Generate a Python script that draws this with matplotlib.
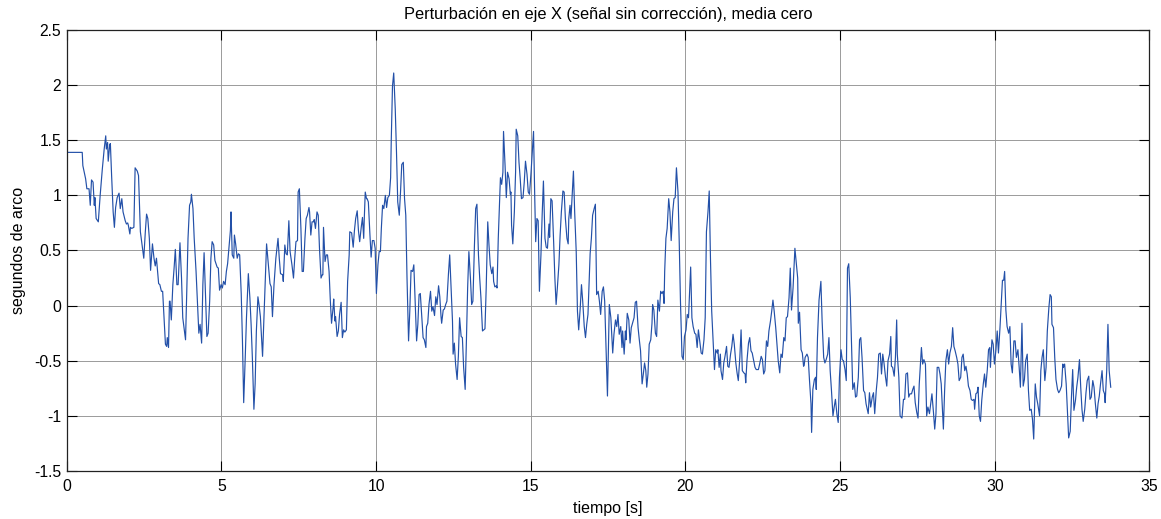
import matplotlib
matplotlib.use("Agg")
import matplotlib.pyplot as plt
from matplotlib.ticker import FuncFormatter

plt.rcParams["font.family"] = ["Liberation Sans", "DejaVu Sans"]

# Values (time in s, disturbance in arc seconds)
tiempo = [
    0.00, 0.50, 0.52, 0.61, 0.65, 0.72, 0.76, 0.80, 0.85, 0.89, 0.91, 0.95, 1.02, 1.08, 1.15, 1.21,
    1.26, 1.28, 1.32, 1.34, 1.39, 1.41, 1.45, 1.50, 1.54, 1.58, 1.63, 1.69, 1.73, 1.78, 1.82, 1.89,
    1.93, 1.97, 1.99, 2.04, 2.06, 2.10, 2.17, 2.21, 2.28, 2.32, 2.38, 2.45, 2.49, 2.54, 2.58, 2.62,
    2.67, 2.71, 2.77, 2.82, 2.86, 2.90, 2.97, 3.01, 3.06, 3.10, 3.14, 3.19, 3.23, 3.25, 3.29, 3.32,
    3.34, 3.38, 3.43, 3.47, 3.51, 3.56, 3.60, 3.66, 3.71, 3.75, 3.79, 3.84, 3.88, 3.92, 3.97, 4.01,
    4.03, 4.08, 4.12, 4.18, 4.23, 4.27, 4.31, 4.36, 4.40, 4.44, 4.49, 4.53, 4.57, 4.62, 4.66, 4.70,
    4.75, 4.79, 4.86, 4.90, 4.94, 4.99, 5.03, 5.07, 5.12, 5.16, 5.20, 5.25, 5.29, 5.31, 5.35, 5.40,
    5.42, 5.46, 5.51, 5.55, 5.59, 5.64, 5.68, 5.72, 5.77, 5.81, 5.87, 5.92, 5.96, 6.00, 6.05, 6.09,
    6.13, 6.18, 6.22, 6.26, 6.33, 6.37, 6.42, 6.46, 6.50, 6.57, 6.61, 6.65, 6.70, 6.76, 6.83, 6.87,
    6.91, 6.98,
    7.00, 7.05, 7.09, 7.13, 7.18, 7.22, 7.28, 7.33, 7.37, 7.41, 7.46, 7.48, 7.52, 7.57, 7.61, 7.65,
    7.70, 7.74, 7.78, 7.83, 7.85, 7.89, 7.93, 7.98, 8.00, 8.04, 8.09, 8.13, 8.17, 8.22, 8.26, 8.28,
    8.30, 8.35, 8.39, 8.43, 8.48, 8.52, 8.56, 8.61, 8.63, 8.67, 8.69, 8.74, 8.78, 8.82, 8.87, 8.91,
    8.95, 8.99, 9.04, 9.08, 9.13, 9.15, 9.21, 9.26, 9.30, 9.34, 9.39, 9.43, 9.47, 9.52, 9.56, 9.60,
    9.62, 9.65, 9.69, 9.71, 9.75, 9.80, 9.84, 9.88, 9.93, 9.97, 10.01, 10.06, 10.10, 10.14, 10.17,
    10.21, 10.25, 10.30, 10.34, 10.38, 10.43, 10.47, 10.49,
    10.53, 10.57, 10.62, 10.66, 10.70, 10.75, 10.79, 10.83, 10.88, 10.92, 10.96, 11.00, 11.05, 11.09,
    11.13, 11.18, 11.22, 11.26, 11.31, 11.35, 11.39, 11.43, 11.48, 11.52, 11.56, 11.61, 11.63, 11.67,
    11.71, 11.76, 11.80, 11.84, 11.89, 11.93, 11.97, 12.02, 12.06, 12.10, 12.12, 12.17, 12.21, 12.25,
    12.29, 12.34, 12.38, 12.42, 12.47, 12.49, 12.53, 12.57, 12.62, 12.66, 12.70, 12.75, 12.79, 12.83,
    12.88, 12.92, 12.96, 13.00, 13.05, 13.09, 13.13, 13.18, 13.22, 13.26, 13.31, 13.35, 13.39, 13.44,
    13.48, 13.52, 13.56, 13.61, 13.65, 13.69, 13.74, 13.78, 13.80, 13.84, 13.89, 13.91, 13.95,
    14.02, 14.06, 14.10, 14.12, 14.17, 14.21, 14.25, 14.30, 14.34, 14.36, 14.38, 14.42, 14.47, 14.51,
    14.53, 14.58, 14.62, 14.66, 14.70, 14.75, 14.79, 14.83, 14.88, 14.92, 14.96, 15.01, 15.05, 15.09,
    15.13, 15.16, 15.20, 15.24, 15.28, 15.33, 15.37, 15.41, 15.46, 15.50, 15.54, 15.59, 15.61, 15.65,
    15.69, 15.74, 15.78, 15.82, 15.86, 15.91, 15.95, 15.99, 16.04, 16.08, 16.12, 16.17, 16.21, 16.23,
    16.27, 16.30, 16.34, 16.38, 16.42, 16.47, 16.51, 16.55, 16.60, 16.64, 16.68, 16.73, 16.77, 16.81,
    16.85, 16.90, 16.92, 16.96, 17.00, 17.05, 17.09, 17.13, 17.18, 17.22, 17.26, 17.31, 17.35, 17.39,
    17.44, 17.48,
    17.54, 17.59, 17.65, 17.69, 17.74, 17.78, 17.82, 17.86, 17.91, 17.95, 17.97, 18.02, 18.06, 18.08,
    18.12, 18.17, 18.21, 18.25, 18.29, 18.34, 18.38, 18.42, 18.47, 18.51, 18.55, 18.60, 18.64, 18.68,
    18.72, 18.75, 18.79, 18.83, 18.88, 18.92, 18.94, 18.98, 19.03, 19.07, 19.11, 19.16, 19.20, 19.24,
    19.28, 19.31, 19.33, 19.37, 19.41, 19.46, 19.50, 19.54, 19.59, 19.63, 19.67, 19.71, 19.76, 19.80,
    19.84, 19.89, 19.93, 19.97, 20.02, 20.06, 20.10, 20.17, 20.21, 20.25, 20.30, 20.34, 20.38, 20.42,
    20.47, 20.51, 20.55, 20.60, 20.64, 20.68, 20.73, 20.77, 20.81, 20.85, 20.90, 20.94, 20.98, 21.03,
    21.05,
    21.09, 21.13, 21.15, 21.20, 21.24, 21.28, 21.33, 21.37, 21.41, 21.46, 21.50, 21.54, 21.58, 21.63,
    21.67, 21.71, 21.76, 21.80, 21.84, 21.89, 21.93, 21.95, 21.99, 22.04, 22.08, 22.12, 22.16, 22.21,
    22.25, 22.29, 22.36, 22.40, 22.45, 22.49, 22.53, 22.57, 22.62, 22.66, 22.70, 22.75, 22.79, 22.83,
    22.87, 22.92, 22.96, 23.00, 23.05, 23.09, 23.13, 23.18, 23.22, 23.26, 23.30, 23.35, 23.39, 23.43,
    23.48, 23.52, 23.54, 23.58, 23.63, 23.65, 23.69, 23.74, 23.78, 23.82, 23.84, 23.87, 23.93, 23.97,
    24.01, 24.06, 24.08, 24.12, 24.17, 24.21, 24.23, 24.27, 24.32, 24.36, 24.38, 24.42, 24.47, 24.51,
    24.55, 24.60,
    24.64, 24.68, 24.72, 24.77, 24.81, 24.85, 24.90, 24.94, 24.98, 25.03, 25.07, 25.11, 25.16, 25.20,
    25.24, 25.28, 25.33, 25.37, 25.41, 25.46, 25.50, 25.54, 25.59, 25.63, 25.67, 25.71, 25.76, 25.80,
    25.84, 25.91, 25.95, 25.99, 26.04, 26.08, 26.12, 26.17, 26.21, 26.25, 26.30, 26.34, 26.38, 26.42,
    26.47, 26.51, 26.55, 26.60, 26.64, 26.66, 26.70, 26.75, 26.79, 26.83, 26.85, 26.90, 26.94, 27.00,
    27.05, 27.09, 27.13, 27.18, 27.22, 27.26, 27.31, 27.35, 27.39, 27.43, 27.48, 27.52, 27.56, 27.63,
    27.67, 27.71, 27.76, 27.80, 27.84, 27.89, 27.93, 27.97, 28.02, 28.06, 28.10, 28.14,
    28.19, 28.23, 28.27, 28.34, 28.38, 28.42, 28.47, 28.51, 28.55, 28.60, 28.64, 28.68, 28.72, 28.77,
    28.81, 28.85, 28.90, 28.94, 28.98, 29.03, 29.07, 29.11, 29.15, 29.20, 29.24, 29.28, 29.33, 29.35,
    29.39, 29.43, 29.46, 29.50, 29.54, 29.58, 29.63, 29.67, 29.71, 29.76, 29.80, 29.84, 29.86, 29.91,
    29.95, 29.99, 30.04, 30.08, 30.12, 30.17, 30.21, 30.25, 30.29, 30.32, 30.36, 30.40, 30.45, 30.49,
    30.53, 30.57, 30.62, 30.66, 30.70, 30.75, 30.79, 30.83, 30.88, 30.92, 30.96, 31.00, 31.05, 31.09,
    31.13, 31.18, 31.22, 31.26, 31.31, 31.35, 31.39,
    31.45, 31.49, 31.53, 31.57, 31.62, 31.66, 31.70, 31.75, 31.79, 31.83, 31.85, 31.90, 31.94, 31.98,
    32.03, 32.07, 32.11, 32.16, 32.20, 32.22, 32.26, 32.31, 32.35, 32.39, 32.44, 32.48, 32.52, 32.56,
    32.61, 32.65, 32.69, 32.74, 32.78, 32.82, 32.86, 32.91, 32.95, 32.99, 33.04, 33.08, 33.12, 33.17,
    33.21, 33.25, 33.30, 33.34, 33.38, 33.42, 33.47, 33.51, 33.55, 33.57, 33.62, 33.66, 33.70, 33.75,
]

perturbacion = [
    1.39, 1.39, 1.27, 1.15, 1.06, 1.06, 0.91, 1.14, 1.12, 0.91, 0.98, 0.79, 0.76, 1.00, 1.24, 1.42,
    1.54, 1.42, 1.48, 1.31, 1.46, 1.47, 1.18, 0.85, 0.71, 0.89, 0.98, 1.02, 0.88, 0.97, 0.85, 0.77,
    0.74, 0.75, 0.73, 0.65, 0.71, 0.70, 0.71, 1.25, 1.22, 1.18, 0.67, 0.52, 0.43, 0.67, 0.83, 0.79,
    0.61, 0.32, 0.56, 0.43, 0.36, 0.43, 0.20, 0.19, 0.13, 0.13, -0.08, -0.35, -0.37, -0.29, -0.38, 0.04,
    0.04, -0.13, 0.19, 0.34, 0.51, 0.19, 0.19, 0.57, 0.25, -0.11, -0.20, -0.31, 0.13, 0.61, 0.91, 0.94,
    1.01, 0.88, 0.61, 0.31, 0.00, -0.25, -0.17, -0.34, 0.19, 0.48, 0.07, -0.28, -0.25, 0.04, 0.43, 0.58,
    0.55, 0.41, 0.35, 0.34, 0.14, 0.19, 0.16, 0.22, 0.19, 0.31, 0.38, 0.55, 0.68, 0.85, 0.46, 0.43,
    0.64, 0.56, 0.43, 0.47, 0.46, 0.11, -0.32, -0.88, -0.47, -0.11, 0.29, 0.07, -0.17, -0.47, -0.94, -0.71,
    -0.23, 0.08, 0.00, -0.10, -0.46, -0.14, 0.25, 0.56, 0.43, 0.20, 0.17, -0.10, 0.19, 0.43, 0.61, 0.43,
    0.29, 0.28,
    0.22, 0.55, 0.47, 0.46, 0.77, 0.49, 0.37, 0.25, 0.43, 0.58, 0.59, 1.03, 1.06, 0.70, 0.31, 0.31,
    0.61, 0.79, 0.82, 0.89, 0.85, 0.64, 0.76, 0.76, 0.78, 0.70, 0.85, 0.82, 0.52, 0.25, 0.28, 0.28,
    0.71, 0.40, 0.46, 0.46, 0.31, 0.05, -0.16, -0.02, 0.06, -0.14, -0.10, -0.28, -0.23, -0.08, 0.03, -0.29,
    -0.22, -0.24, -0.22, 0.22, 0.46, 0.67, 0.66, 0.53, 0.68, 0.79, 0.86, 0.68, 0.58, 0.71, 0.80, 0.61,
    0.80, 1.03, 0.97, 0.97, 0.94, 0.65, 0.44, 0.59, 0.59, 0.52, 0.11, 0.37, 0.49, 0.49, 0.70,
    0.91, 0.88, 1.00, 0.89, 0.98, 1.00, 1.16, 1.49,
    1.99, 2.11, 1.78, 1.39, 0.94, 0.82, 1.03, 1.28, 1.30, 0.97, 0.82, 0.25, -0.32, -0.05,
    0.32, 0.31, 0.37, 0.07, -0.32, -0.17, 0.10, 0.11, -0.11, -0.29, -0.31, -0.38, -0.19, -0.16,
    0.01, 0.13, -0.05, -0.01, -0.09, 0.08, 0.01, 0.18, 0.08, -0.10, -0.16, -0.04, -0.03, 0.01,
    0.04, 0.29, 0.46, 0.19, -0.14, -0.44, -0.34, -0.53, -0.67, -0.46, -0.11, -0.28, -0.29, -0.56,
    -0.76, -0.32, 0.16, 0.49, 0.25, 0.01, 0.04, 0.55, 0.88, 0.92, 0.46, 0.25, 0.07, -0.23,
    -0.22, -0.21, 0.16, 0.76, 0.55, 0.37, 0.29, 0.35, 0.22, 0.17, 0.18, 0.16, 0.61,
    1.16, 1.10, 1.21, 1.58, 1.27, 0.98, 1.21, 1.15, 1.01, 1.03, 0.73, 0.56, 0.85, 1.21,
    1.60, 1.54, 1.30, 1.15, 0.97, 0.98, 1.12, 1.31, 1.19, 1.03, 1.01, 1.21, 1.39, 1.58,
    0.97, 0.58, 0.79, 0.77, 0.13, 0.46, 0.83, 1.13, 0.61, 0.53, 0.52, 0.74, 0.62, 0.97,
    0.95, 0.58, 0.25, 0.01, 0.16, 0.37, 0.64, 0.85, 1.04, 1.03, 0.79, 0.61, 0.56, 0.79,
    0.91, 0.79, 1.01, 1.22, 0.85, 0.49, -0.05, -0.22, -0.02, 0.19, 0.04, -0.19, -0.29, -0.17,
    -0.08, 0.31, 0.47, 0.61, 0.82, 0.88, 0.92, 0.10, 0.13, 0.04, -0.08, 0.13, 0.17, 0.04,
    -0.43, -0.82,
    0.01, -0.11, -0.43, -0.26, -0.13, -0.19, -0.08, -0.26, -0.19, -0.38, -0.23, -0.44, -0.23, -0.31,
    -0.07, -0.13, -0.34, -0.20, -0.16, -0.11, 0.03, 0.04, -0.20, -0.31, -0.41, -0.71, -0.62, -0.52,
    -0.59, -0.74, -0.62, -0.35, -0.31, -0.16, 0.01, -0.04, -0.25, -0.28, 0.05, -0.05, 0.13, 0.11,
    0.13, 0.02, 0.31, 0.61, 0.70, 0.97, 0.85, 0.59, 0.85, 0.97, 0.98, 1.25, 1.03, 0.58,
    0.04, -0.46, -0.49, -0.28, -0.22, -0.08, -0.11, 0.35, -0.11, -0.19, -0.25, -0.26, -0.38, -0.22,
    -0.34, -0.43, -0.44, -0.31, -0.11, 0.67, 0.85, 1.04, 0.43, -0.05, -0.34, -0.58, -0.40, -0.43,
    -0.40,
    -0.56, -0.44, -0.59, -0.67, -0.52, -0.46, -0.37, -0.55, -0.56, -0.44, -0.37, -0.26, -0.35, -0.52,
    -0.61, -0.68, -0.47, -0.22, -0.59, -0.61, -0.62, -0.70, -0.50, -0.34, -0.29, -0.41, -0.43, -0.50,
    -0.56, -0.58, -0.58, -0.53, -0.46, -0.49, -0.62, -0.59, -0.32, -0.37, -0.23, -0.14, -0.05, 0.05,
    -0.05, -0.20, -0.35, -0.50, -0.61, -0.44, -0.47, -0.29, -0.32, -0.11, -0.10, 0.07, 0.34, -0.04,
    0.16, 0.40, 0.52, 0.40, 0.25, -0.16, -0.06, -0.40, -0.43, -0.55, -0.54, -0.47, -0.44, -0.47,
    -0.67, -0.89, -1.15, -0.76, -0.67, -0.65, -0.76, -0.29, 0.05, 0.17, 0.22, -0.14, -0.47, -0.52,
    -0.49, -0.44,
    -0.29, -0.59, -0.76, -1.00, -0.92, -0.85, -0.99, -1.06, -0.65, -0.40, -0.49, -0.50, -0.58, -0.68,
    0.34, 0.38, 0.07, -0.35, -0.76, -0.70, -0.83, -0.82, -0.65, -0.31, -0.29, -0.47, -0.77, -0.79,
    -0.89, -0.98, -0.79, -0.92, -0.83, -0.79, -0.98, -0.77, -0.65, -0.44, -0.43, -0.62, -0.44, -0.52,
    -0.65, -0.73, -0.50, -0.44, -0.28, -0.55, -0.56, -0.64, -0.47, -0.13, -0.44, -0.65, -1.00, -1.02,
    -0.85, -0.85, -0.62, -0.61, -0.83, -0.80, -0.80, -0.76, -0.73, -0.88, -0.97, -1.02, -0.71, -0.38,
    -0.53, -0.49, -0.53, -1.00, -0.92, -0.98, -0.89, -0.80, -0.97, -1.12, -0.98, -0.56,
    -0.56, -0.62, -0.71, -1.12, -0.77, -0.50, -0.40, -0.53, -0.43, -0.37, -0.20, -0.37, -0.41, -0.47,
    -0.53, -0.68, -0.65, -0.47, -0.44, -0.59, -0.55, -0.62, -0.73, -0.77, -0.85, -0.86, -0.85, -0.94,
    -0.80, -0.79, -0.74, -1.00, -1.05, -0.86, -0.71, -0.62, -0.74, -0.58, -0.40, -0.38, -0.56, -0.31,
    -0.35, -0.53, -0.40, -0.23, -0.43, -0.20, 0.01, 0.23, 0.23, 0.31, -0.04, -0.19, -0.25, -0.19,
    -0.53, -0.61, -0.32, -0.32, -0.47, -0.40, -0.56, -0.74, -0.16, -0.73, -0.67, -0.50, -0.44, -0.77,
    -0.95, -0.94, -1.03, -1.21, -0.71, -0.83, -0.89,
    -1.00, -0.59, -0.47, -0.40, -0.68, -0.56, -0.23, -0.02, 0.10, 0.08, -0.17, -0.20, -0.47, -0.67,
    -0.76, -0.79, -0.77, -0.73, -0.53, -0.56, -0.53, -0.71, -0.95, -1.20, -1.14, -0.83, -0.58, -0.95,
    -0.86, -0.74, -0.65, -0.49, -0.74, -0.94, -1.05, -0.94, -0.79, -0.68, -0.64, -0.85, -0.83, -0.68,
    -0.74, -0.88, -1.02, -0.89, -0.82, -0.71, -0.59, -0.77, -0.80, -0.88, -0.59, -0.17, -0.59, -0.74,
]

x_ticks = [0, 5, 10, 15, 20, 25, 30, 35]
y_ticks = [-1.5, -1, -0.5, 0, 0.5, 1, 1.5, 2, 2.5]

fig = plt.figure(figsize=(11.61, 5.19), dpi=100)
ax = fig.add_axes([0.0575, 0.0925, 0.9325, 0.8497])

ax.plot(tiempo, perturbacion, color="#2350a8", linewidth=0.85)

ax.set_xlim(0, 35)
ax.set_ylim(-1.5, 2.5)
ax.set_xticks(x_ticks)
ax.set_yticks(y_ticks)
ax.yaxis.set_major_formatter(FuncFormatter(lambda v, p: f"{v:g}"))
ax.grid(True, color="#9a9a9a", linewidth=0.7)
ax.set_axisbelow(True)

ax.tick_params(direction="in", length=7, width=0.8, labelsize=11.3,
               top=True, right=True, colors="black")
ax.tick_params(axis="x", pad=6)
ax.tick_params(axis="y", pad=4)
for s in ax.spines.values():
    s.set_linewidth(0.9)
    s.set_color("#222222")

ax.set_title("Perturbación en eje X (señal sin corrección), media cero", fontsize=11.8, pad=8)
ax.set_xlabel("tiempo [s]", fontsize=11.5, labelpad=5)
ax.set_ylabel("segundos de arco", fontsize=11.5, labelpad=6)

plt.savefig("out.png", dpi=100)
plt.close()
